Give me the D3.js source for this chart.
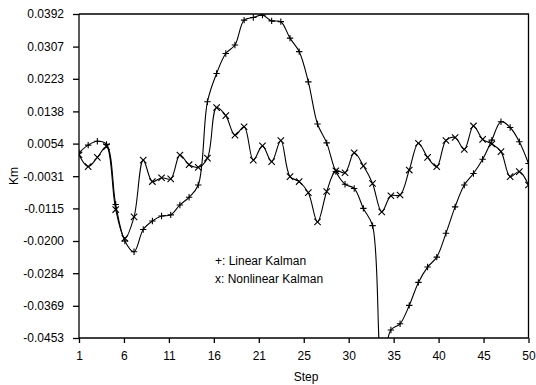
<!DOCTYPE html>
<html lang="en">
	<head>
		<meta charset="utf-8">
		<title>Km</title>
		<script type="text/javascript" src="https://cdn.jsdelivr.net/npm/d3@7"></script>
		<style type="text/css">
			body { margin: 0; background: #fff; }
			svg text { font-family: "Liberation Sans", Arial, sans-serif; font-size: 12px; fill: #000; }
			.axis path, .axis line { stroke: #000; stroke-width: 1.3; }
		</style>
	</head>
	<body>
		<script type="text/javascript">

			//Width and height
			var w = 536;
			var h = 385;
			var margin = { left: 79, right: 7.5, top: 14, bottom: 47 };

			//Data, one value per step
			var steps = d3.range(1, 51);

			var linearKalman = [
				0.0030, 0.0050, 0.0060, 0.0052, -0.0105, -0.0200, -0.0228, -0.0170, -0.0148, -0.0135,
				-0.0132, -0.0106, -0.0086, -0.0054, 0.0163, 0.0237, 0.0289, 0.0311, 0.0376, 0.0383,
				0.0389, 0.0374, 0.0372, 0.0329, 0.0294, 0.0215, 0.0105, 0.0056, -0.0019, -0.0052,
				-0.0063, -0.0115, -0.0160, -0.0520, -0.0432, -0.0416, -0.0368, -0.0308, -0.0268, -0.0242,
				-0.0180, -0.0111, -0.0054, -0.0024, 0.0013, 0.0063, 0.0111, 0.0096, 0.0059, 0.0002
			];

			var nonlinearKalman = [
				0.0025, -0.0006, 0.0018, 0.0046, -0.0118, -0.0193, -0.0137, 0.0011, -0.0045, -0.0035,
				-0.0038, 0.0024, -0.0001, -0.0008, 0.0016, 0.0148, 0.0127, 0.0076, 0.0098, 0.0011,
				0.0048, 0.0007, 0.0062, -0.0032, -0.0045, -0.0074, -0.0150, -0.0071, -0.0017, -0.0022,
				0.0030, -0.0004, -0.0050, -0.0124, -0.0082, -0.0080, -0.0015, 0.0055, 0.0018, -0.0006,
				0.0062, 0.0070, 0.0039, 0.0100, 0.0065, 0.0053, 0.0033, -0.0032, -0.0019, -0.0054
			];

			var yTickLabels = ["0.0392", "0.0307", "0.0223", "0.0138", "0.0054", "-0.0031",
				"-0.0115", "-0.0200", "-0.0284", "-0.0369", "-0.0453"];
			var xTickLabels = ["1", "6", "11", "16", "21", "25", "30", "35", "40", "45", "50"];

			var legendLabels = ["+: Linear Kalman", "x: Nonlinear Kalman"];

			var svg = d3.select("body")
						.append("svg")
						.attr("width", w)
						.attr("height", h);

			//Scales
			var xScale = d3.scaleLinear()
				.domain([1, 50])
				.range([margin.left, w - margin.right]);

			var yScale = d3.scaleLinear()
				.domain([-0.0453, 0.0392])
				.range([h - margin.bottom, margin.top]);

			//Clip to the plot frame (the linear curve dives under the axis)
			svg.append("clipPath")
				.attr("id", "plotclip")
				.append("rect")
				.attr("x", margin.left)
				.attr("y", margin.top)
				.attr("width", w - margin.right - margin.left)
				.attr("height", h - margin.bottom - margin.top);

			//Frame (top and right sides)
			svg.append("path")
				.attr("d", "M" + margin.left + "," + margin.top +
					"H" + (w - margin.right) + "V" + (h - margin.bottom))
				.attr("fill", "none")
				.attr("stroke", "#000")
				.attr("stroke-width", 1.3);

			//Axes
			var xTickValues = xTickLabels.map(function(d, i) { return 1 + 4.9 * i; });

			var xAxis = d3.axisBottom(xScale)
				.tickValues(xTickValues)
				.tickSize(5)
				.tickPadding(8)
				.tickFormat(function(d, i) { return xTickLabels[i]; });

			var yAxis = d3.axisLeft(yScale)
				.tickValues(yTickLabels.map(Number))
				.tickSize(6)
				.tickPadding(9)
				.tickFormat(function(d, i) { return yTickLabels[i]; });

			svg.append("g")
				.attr("class", "axis")
				.attr("transform", "translate(0," + (h - margin.bottom) + ")")
				.call(xAxis)
				.call(function(g) { g.select(".domain").attr("d", "M" + margin.left + ",0H" + (w - margin.right)); });

			svg.append("g")
				.attr("class", "axis")
				.attr("transform", "translate(" + margin.left + ",0)")
				.call(yAxis)
				.call(function(g) { g.select(".domain").attr("d", "M0," + margin.top + "V" + (h - margin.bottom)); });

			svg.selectAll(".axis text")
				.attr("font-family", null)
				.attr("font-size", null);

			//Axis titles
			svg.append("text")
				.attr("x", 306)
				.attr("y", 381)
				.attr("text-anchor", "middle")
				.text("Step");

			svg.append("text")
				.attr("transform", "translate(18,176) rotate(-90)")
				.attr("text-anchor", "middle")
				.text("Km");

			//Curves
			var plot = svg.append("g").attr("clip-path", "url(#plotclip)");

			var line = d3.line()
				.x(function(d, i) { return xScale(steps[i]); })
				.y(function(d) { return yScale(d); })
				.curve(d3.curveCatmullRom.alpha(0.5));

			[linearKalman, nonlinearKalman].forEach(function(series) {
				plot.append("path")
					.attr("d", line(series))
					.attr("fill", "none")
					.attr("stroke", "#000")
					.attr("stroke-width", 1.1);
			});

			//Markers: + for linear, x for nonlinear
			var m = 3.2;
			plot.selectAll(".plus")
				.data(linearKalman)
				.enter()
				.append("path")
				.attr("class", "plus")
				.attr("transform", function(d, i) { return "translate(" + xScale(steps[i]) + "," + yScale(d) + ")"; })
				.attr("d", "M" + (-m) + ",0H" + m + "M0," + (-m) + "V" + m)
				.attr("stroke", "#000")
				.attr("stroke-width", 1.1);

			plot.selectAll(".cross")
				.data(nonlinearKalman)
				.enter()
				.append("path")
				.attr("class", "cross")
				.attr("transform", function(d, i) { return "translate(" + xScale(steps[i]) + "," + yScale(d) + ")"; })
				.attr("d", "M" + (-m) + "," + (-m) + "L" + m + "," + m + "M" + (-m) + "," + m + "L" + m + "," + (-m))
				.attr("stroke", "#000")
				.attr("stroke-width", 1.1);

			//Legend text
			svg.selectAll(".legend")
				.data(legendLabels)
				.enter()
				.append("text")
				.attr("class", "legend")
				.attr("x", 215)
				.attr("y", function(d, i) { return 265 + i * 18; })
				.text(function(d) { return d; });

		</script>
	</body>
</html>
